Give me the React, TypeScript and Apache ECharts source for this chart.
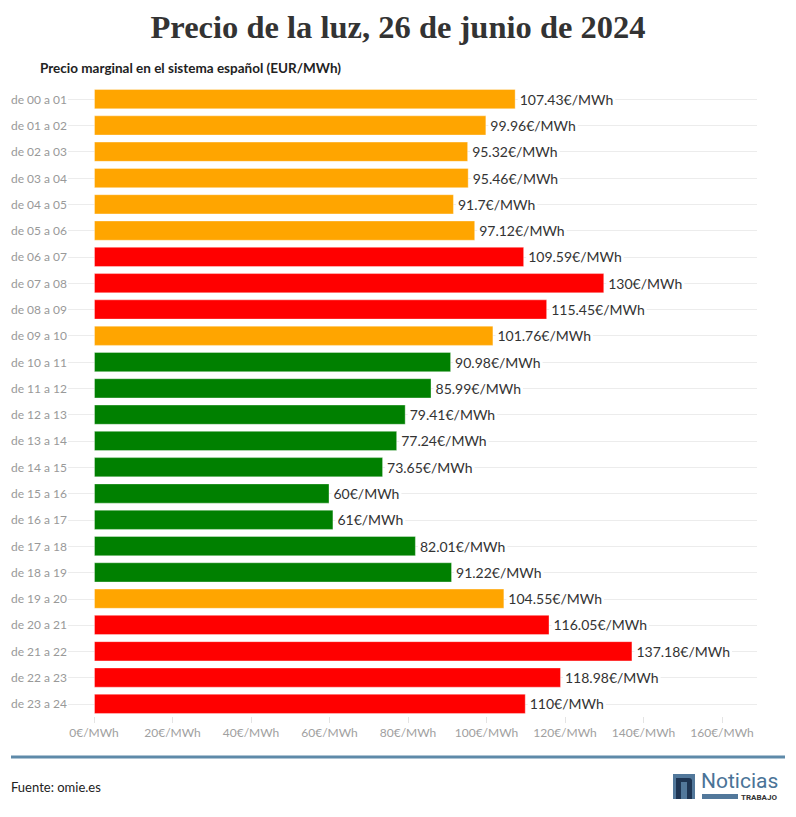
import React, { useEffect, useRef } from "react";
import * as echarts from "echarts";

const hours = [
  "de 00 a 01", "de 01 a 02", "de 02 a 03", "de 03 a 04", "de 04 a 05", "de 05 a 06",
  "de 06 a 07", "de 07 a 08", "de 08 a 09", "de 09 a 10", "de 10 a 11", "de 11 a 12",
  "de 12 a 13", "de 13 a 14", "de 14 a 15", "de 15 a 16", "de 16 a 17", "de 17 a 18",
  "de 18 a 19", "de 19 a 20", "de 20 a 21", "de 21 a 22", "de 22 a 23", "de 23 a 24",
];
const prices = [
  107.43, 99.96, 95.32, 95.46, 91.7, 97.12,
  109.59, 130, 115.45, 101.76, 90.98, 85.99,
  79.41, 77.24, 73.65, 60, 61, 82.01,
  91.22, 104.55, 116.05, 137.18, 118.98, 110,
];
// tramo: "medio" (naranja), "alto" (rojo), "bajo" (verde)
const tiers = [
  "medio", "medio", "medio", "medio", "medio", "medio",
  "alto", "alto", "alto", "medio", "bajo", "bajo",
  "bajo", "bajo", "bajo", "bajo", "bajo", "bajo",
  "bajo", "medio", "alto", "alto", "alto", "alto",
];
const xTicks = [0, 20, 40, 60, 80, 100, 120, 140, 160];

const tierColor: Record<string, string> = { medio: "#FFA500", alto: "#FF0000", bajo: "#008000" };

const SANS = "Lato, 'Source Sans Pro', sans-serif";

export default function App() {
  const ref = useRef<HTMLDivElement>(null);
  useEffect(() => {
    if (!ref.current) return;
    const chart = echarts.init(ref.current, undefined, { renderer: "svg" });
    chart.setOption({
      animation: false,
      backgroundColor: "#fff",
      grid: [
        { left: 94, right: 74, top: 86, bottom: 100 },
        { left: 68, right: 39, top: 99, bottom: 113 },
      ],
      xAxis: [
        {
          gridIndex: 0,
          type: "value",
          min: xTicks[0],
          max: xTicks[xTicks.length - 1],
          interval: 20,
          axisLine: { show: false },
          axisTick: { show: true, length: 6, lineStyle: { color: "#e4e4e4" } },
          splitLine: { show: false },
          axisLabel: {
            color: "#a0a0a0",
            fontFamily: SANS,
            fontSize: 12,
            margin: 9,
            formatter: (v: number) => `${v}€/MWh`,
          },
        },
        { gridIndex: 1, type: "value", show: false, min: 0, max: 1 },
      ],
      yAxis: [
        {
          gridIndex: 0,
          type: "category",
          data: hours,
          inverse: true,
          axisLine: { show: false },
          axisTick: { show: false },
          axisLabel: { color: "#999", fontFamily: SANS, fontSize: 12, margin: 27 },
        },
        {
          gridIndex: 1,
          type: "category",
          data: hours,
          inverse: true,
          boundaryGap: false,
          axisLine: { show: false },
          axisTick: { show: false },
          axisLabel: { show: false },
          splitLine: { show: true, lineStyle: { color: "#ececec", width: 1 } },
        },
      ],
      series: [
        {
          type: "bar",
          xAxisIndex: 0,
          yAxisIndex: 0,
          barCategoryGap: "23%",
          data: prices.map((v, i) => ({
            value: v,
            itemStyle: { color: tierColor[tiers[i]], borderColor: "rgba(255,255,255,0.35)", borderWidth: 1 },
          })),
          label: {
            show: true,
            position: "right",
            distance: 2,
            color: "#333",
            fontFamily: SANS,
            fontSize: 14,
            backgroundColor: "#fff",
            padding: [1, 2],
            formatter: (p: any) => `${p.value}€/MWh`,
          },
        },
      ],
      graphic: [
        {
          type: "text",
          left: "center",
          top: 10,
          style: {
            text: "Precio de la luz, 26 de junio de 2024",
            font: "bold 32.5px 'Liberation Serif', serif",
            fill: "#333",
          },
        },
        {
          type: "text",
          x: 40,
          y: 68,
          style: {
            text: "Precio marginal en el sistema español (EUR/MWh)",
            font: `bold 13.5px ${SANS}`,
            fill: "#222",
            textVerticalAlign: "middle",
          },
        },
        {
          type: "line",
          shape: { x1: 11, y1: 757, x2: 785, y2: 757 },
          style: { stroke: "#5e8aa9", lineWidth: 3 },
        },
        {
          type: "text",
          x: 11,
          y: 787,
          style: { text: "Fuente: omie.es", font: `13px ${SANS}`, fill: "#222", textVerticalAlign: "middle" },
        },
        { type: "rect", shape: { x: 673, y: 774, width: 22, height: 25 }, style: { fill: "#52789b" } },
        { type: "rect", shape: { x: 676, y: 778, width: 5, height: 21 }, style: { fill: "#1e3553" } },
        { type: "rect", shape: { x: 687, y: 780, width: 5, height: 19 }, style: { fill: "#1e3553" } },
        { type: "rect", shape: { x: 676, y: 778, width: 16, height: 4, r: [0, 3, 0, 0] }, style: { fill: "#1e3553" } },
        {
          type: "text",
          x: 701,
          y: 791,
          style: { text: "Noticias", font: "21px Roboto, sans-serif", fill: "#4a7397", textVerticalAlign: "bottom" },
        },
        { type: "rect", shape: { x: 702, y: 794, width: 36, height: 5 }, style: { fill: "#52789b" } },
        {
          type: "text",
          x: 741,
          y: 797,
          style: { text: "TRABAJO", font: "bold 8px Roboto, sans-serif", fill: "#333", textVerticalAlign: "middle" },
        },
      ],
    });
    return () => chart.dispose();
  }, []);
  return <div ref={ref} style={{ position: "fixed", left: 0, top: 0, width: 796, height: 817 }} />;
}
